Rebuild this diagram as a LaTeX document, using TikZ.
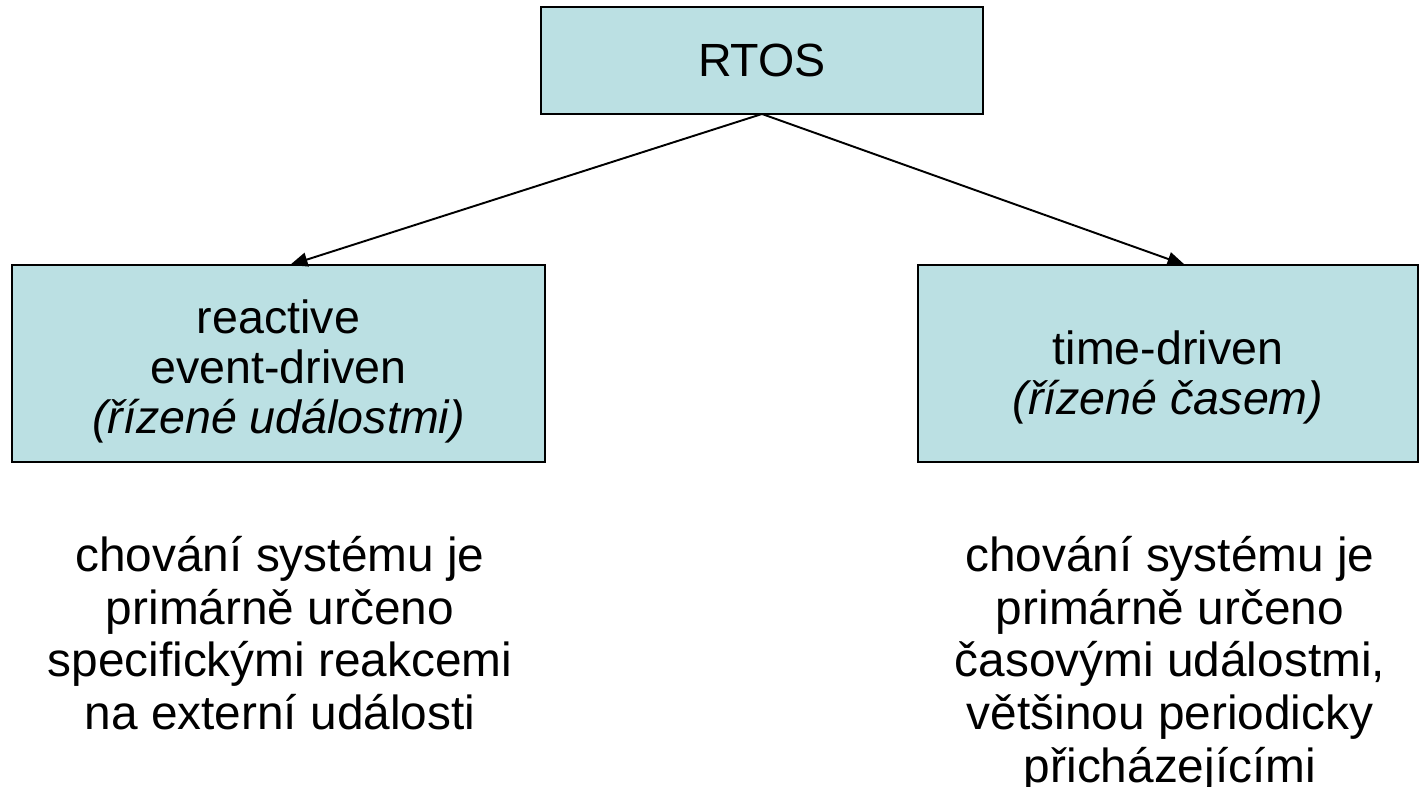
\documentclass[tikz,border=0pt]{standalone}
\usepackage{fontspec}
\setmainfont{Liberation Sans}
\usepackage{xcolor}
\usetikzlibrary{arrows.meta,positioning}
\definecolor{boxfill}{RGB}{187,224,227}

\begin{document}
\begin{tikzpicture}[
        every node/.style={font=\fontsize{26.5}{28.5}\selectfont, align=center},
        box/.style={draw, line width=0.8pt, fill=boxfill, inner sep=0, outer sep=0},
        boxtext/.style={inner sep=0},
        desc/.style={font=\fontsize{27.2}{30}\selectfont, inner sep=0, anchor=north},
        link/.style={-{Triangle[length=10pt,width=8pt]}, line width=1.1pt},
    ]
        \useasboundingbox (0,0) rectangle (28.56,15.74);
        \node [box, minimum width=8.84cm, minimum height=2.14cm] (rtos) at (15.24,14.53) {RTOS};
        \node [box, minimum width=10.66cm, minimum height=3.94cm] (reactive) at (5.57,8.47) {};
        \node [box, minimum width=10cm, minimum height=3.94cm] (timed) at (23.36,8.47) {};
        \node [boxtext] (reactivetext) at ([yshift=-0.16cm]reactive.center)
            {reactive\\event-driven\\\textit{(řízené událostmi)}};
        \node [boxtext] (timedtext) at ([yshift=-0.28cm]timed.center)
            {time-driven\\\textit{(řízené časem)}};

        \node [desc] (reactivedesc) at (5.6,5.02)
            {chování systému je\\primárně určeno\\specifickými reakcemi\\na externí události};
        \node [desc] (timeddesc) at (23.4,5.02)
            {chování systému je\\primárně určeno\\časovými událostmi,\\většinou periodicky\\přicházejícími};

        \draw [link] (rtos.south) -- ([xshift=0.23cm]reactive.north);
        \draw [link] (rtos.south) -- ([xshift=0.34cm]timed.north);
    \end{tikzpicture}
\end{document}
